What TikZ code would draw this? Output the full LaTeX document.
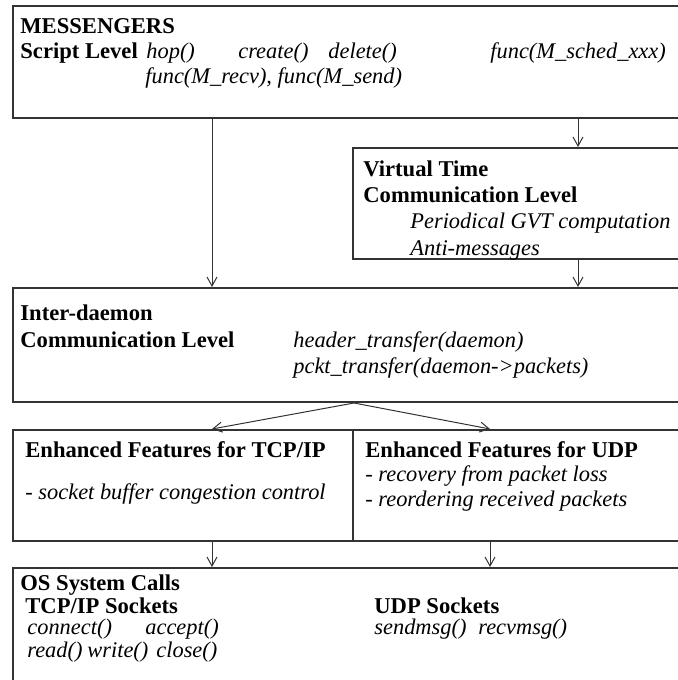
\documentclass[tikz,border=0pt]{standalone}
\usepackage{fontspec}
\setmainfont{Liberation Serif}
\usetikzlibrary{arrows.meta}

\begin{document}
\begin{tikzpicture}[
    x=0.5pt, y=-0.5pt,
    layer/.style={rectangle, draw=black!80, line width=1pt, anchor=north west, inner sep=0pt},
    title/.style={anchor=base west, inner sep=0pt, font=\fontsize{11.3pt}{13pt}\selectfont\bfseries},
    call/.style={anchor=base west, inner sep=0pt, font=\fontsize{11.2pt}{13pt}\selectfont\itshape},
    arrow/.style={-{Straight Barb[length=4.5pt,width=5pt]}, line width=0.5pt, draw=black!80}
]
    \useasboundingbox (0,0) rectangle (678,680);
    \clip (0,0) rectangle (678,680);

    % Layers
    \node[layer, minimum width=339pt, minimum height=56pt] (msgr) at (12,5) {};
    \node[layer, minimum width=169pt, minimum height=55.5pt] (vtime) at (352,147) {};
    \node[layer, minimum width=339pt, minimum height=57pt] (daemon) at (12,287) {};
    \node[layer, minimum width=170pt, minimum height=55.5pt] (tcpfeat) at (12,429) {};
    \node[layer, minimum width=169pt, minimum height=55.5pt] (udpfeat) at (352,429) {};
    \node[layer, minimum width=339pt, minimum height=70pt] (oscalls) at (12,567) {};

    % Columns for the arrows
    \coordinate (tcpcol) at (212,0);
    \coordinate (udpcol) at (490,0);
    \coordinate (vtcol) at (578,0);

    % Arrows
    \draw[arrow] (msgr.south -| tcpcol) -- (daemon.north -| tcpcol);
    \draw[arrow] (msgr.south -| vtcol) -- (vtime.north -| vtcol);
    \draw[arrow] (vtime.south -| vtcol) -- (daemon.north -| vtcol);
    \draw[arrow] (daemon.south -| tcpfeat.east) -- (tcpfeat.north -| tcpcol);
    \draw[arrow] (daemon.south -| tcpfeat.east) -- (udpfeat.north -| udpcol);
    \draw[arrow] (tcpfeat.south -| tcpcol) -- (oscalls.north -| tcpcol);
    \draw[arrow] (udpfeat.south -| udpcol) -- (oscalls.north -| udpcol);

    % Script level
    \node[title] (msgrtitle) at (20,33) {MESSENGERS};
    \node[title] (script) at (20,58) {Script Level};
    \node[call] (hop) at (146,58) {hop()};
    \node[call] (create) at (238,58) {create()};
    \node[call] (delete) at (328,58) {delete()};
    \node[call] (sched) at (490,58) {func(M\_sched\_xxx)};
    \node[call] (recvsend) at (145,83) {func(M\_recv), func(M\_send)};

    % Virtual time
    \node[title] (vttitle) at (363,176) {Virtual Time};
    \node[title] (vtlevel) at (363,202) {Communication Level};
    \node[call] (gvt) at (410,228) {Periodical GVT computation};
    \node[call] (anti) at (410,255) {Anti-messages};

    % Inter-daemon
    \node[title] (idtitle) at (20,320) {Inter-daemon};
    \node[title] (idlevel) at (20,347) {Communication Level};
    \node[call] (header) at (293,347) {header\_transfer(daemon)};
    \node[call] (pckt) at (293,373) {pckt\_transfer(daemon->packets)};

    % Enhanced features
    \node[title] (tcptitle) at (25,457) {Enhanced Features for TCP/IP};
    \node[call] (congest) at (25,499) {- socket buffer congestion control};
    \node[title] (udptitle) at (365,457) {Enhanced Features for UDP};
    \node[call] (recovery) at (365,481) {- recovery from packet loss};
    \node[call] (reorder) at (365,506) {- reordering received packets};

    % OS system calls
    \node[title] (ostitle) at (20,590) {OS System Calls};
    \node[title] (tcpsock) at (25,613) {TCP/IP Sockets};
    \node[call] (connect) at (27,634) {connect()};
    \node[call] (accept) at (145,634) {accept()};
    \node[call] (read) at (27,657) {read()};
    \node[call] (write) at (87,657) {write()};
    \node[call] (close) at (156,657) {close()};
    \node[title] (udpsock) at (374,613) {UDP Sockets};
    \node[call] (sendmsg) at (374,634) {sendmsg()};
    \node[call] (recvmsg) at (478,634) {recvmsg()};
\end{tikzpicture}
\end{document}
